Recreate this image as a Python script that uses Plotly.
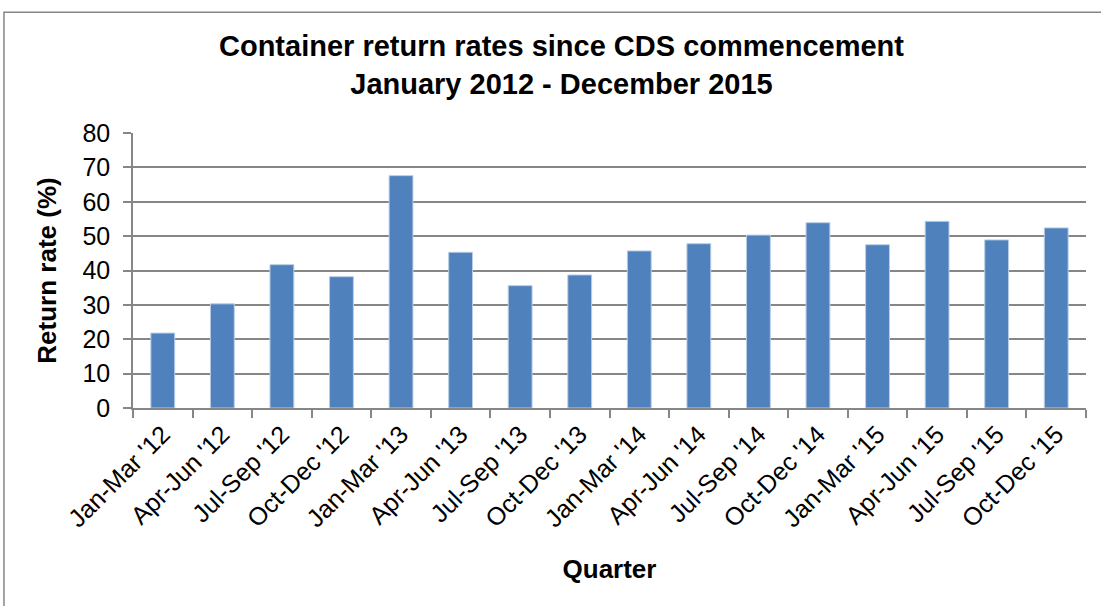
import plotly.graph_objects as go

quarters = ["Jan-Mar '12", "Apr-Jun '12", "Jul-Sep '12", "Oct-Dec '12",
            "Jan-Mar '13", "Apr-Jun '13", "Jul-Sep '13", "Oct-Dec '13",
            "Jan-Mar '14", "Apr-Jun '14", "Jul-Sep '14", "Oct-Dec '14",
            "Jan-Mar '15", "Apr-Jun '15", "Jul-Sep '15", "Oct-Dec '15"]
return_rates = [21.8, 30.3, 41.7, 38.2, 67.6, 45.3, 35.6, 38.7,
                45.7, 47.8, 50.3, 53.9, 47.5, 54.3, 48.9, 52.4]
y_ticks = [0, 10, 20, 30, 40, 50, 60, 70, 80]

FONT = "Liberation Sans, Arial, sans-serif"
GRID = "#868686"

fig = go.Figure(go.Bar(
    x=quarters, y=return_rates,
    marker=dict(color="#4F81BD", line=dict(color="#B9CDE5", width=1)),
    hoverinfo="x+y",
))

fig.update_layout(
    width=1101, height=606,
    margin=dict(l=133, r=15, t=133, b=198),
    paper_bgcolor="white", plot_bgcolor="white",
    bargap=0.6,
    showlegend=False,
    font=dict(family=FONT, color="black", size=25),
    title=dict(
        text="<b>Container return rates since CDS commencement<br>January 2012 - December 2015</b>",
        x=0.4496, xref="paper", xanchor="center",
        y=0.907, yanchor="middle",
        font=dict(family=FONT, size=29, color="black"),
    ),
    xaxis=dict(
        type="category",
        automargin=False,
        tickangle=-45,
        tickfont=dict(size=25),
        ticks="outside", ticklen=8, tickcolor=GRID, tickwidth=1.5,
        tickson="boundaries",
        showline=True, linecolor=GRID, linewidth=1.5,
        showgrid=False,
        title=dict(text="<b>Quarter</b>", font=dict(size=26), standoff=28),
    ),
    yaxis=dict(
        automargin=False,
        range=[0, 80],
        tickvals=y_ticks,
        tickfont=dict(size=25),
        ticks="outside", ticklen=8, tickcolor=GRID, tickwidth=1.5,
        ticklabelstandoff=8,
        showline=True, linecolor=GRID, linewidth=1.5,
        showgrid=True, gridcolor=GRID, gridwidth=1.5,
        zeroline=False,
        title=dict(text="<b>Return rate (%)</b>", font=dict(size=26), standoff=18),
    ),
    shapes=[dict(
        type="rect", xref="paper", yref="paper",
        x0=-0.1354, x1=1.2, y0=-1.0, y1=1.439,
        line=dict(color=GRID, width=1.5), fillcolor="rgba(0,0,0,0)", layer="below",
    )],
)

fig.write_html("out.html", config={"displayModeBar": False},
               post_script="document.body.style.margin='0px';")
